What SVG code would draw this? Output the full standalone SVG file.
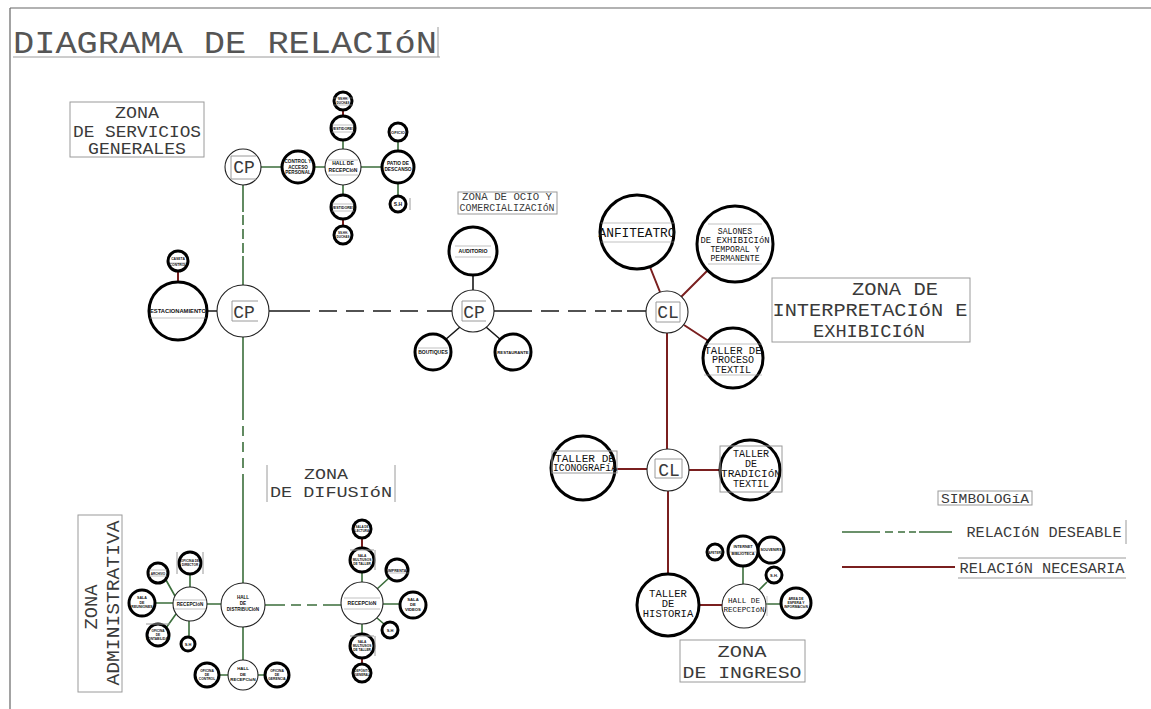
<svg xmlns="http://www.w3.org/2000/svg" width="1151" height="709" viewBox="0 0 1151 709">
<style>
.frame{stroke:#666;stroke-width:1.2;fill:none}
.lbox{fill:none;stroke:#9a9a9a;stroke-width:1}
.tk{fill:#fff;stroke:#000;stroke-width:3}
.tn{fill:#fff;stroke:#222;stroke-width:1.1}
.g{stroke:#3b6e3b;stroke-width:1.6;fill:none}
.r{stroke:#7a1f1f;stroke-width:2;fill:none}
.k{stroke:#1a1a1a;stroke-width:1.6;fill:none}
.ul{stroke:#999;stroke-width:0.6}
text{font-family:"Liberation Mono","DejaVu Sans Mono",monospace;fill:#3a3a3a;text-anchor:middle}
.n{font-family:"Liberation Sans Narrow","Liberation Sans",Arial,sans-serif;font-weight:bold;fill:#111}
</style>
<rect width="1151" height="709" fill="#fff"/>
<g id="frame">
<path class="frame" d="M10 8H1151M10 8V709"/>
<path class="lbox" d="M13 57H440M438 27V57"/>
<text x="13" y="53" font-size="31" textLength="424" lengthAdjust="spacingAndGlyphs" style="text-anchor:start;fill:#555">DIAGRAMA DE RELACIóN</text>
</g>
<g id="zone-labels">
<rect class="lbox" x="70" y="102" width="134" height="55"/>
<text x="137" y="118" font-size="17" textLength="44" lengthAdjust="spacingAndGlyphs">ZONA</text>
<text x="137" y="137" font-size="17" textLength="128" lengthAdjust="spacingAndGlyphs">DE SERVICIOS</text>
<text x="137" y="154" font-size="17" textLength="98" lengthAdjust="spacingAndGlyphs">GENERALES</text>
<rect class="lbox" x="458" y="192" width="99" height="22"/>
<text x="507" y="200" font-size="10" textLength="90" lengthAdjust="spacingAndGlyphs">ZONA DE OCIO Y</text>
<text x="507" y="211" font-size="10" textLength="95" lengthAdjust="spacingAndGlyphs">COMERCIALIZACIóN</text>
<rect class="lbox" x="772" y="278" width="198" height="64"/>
<text x="895" y="295" font-size="19" textLength="86" lengthAdjust="spacingAndGlyphs">ZONA DE</text>
<text x="870" y="316" font-size="19" textLength="195" lengthAdjust="spacingAndGlyphs">INTERPRETACIóN E</text>
<text x="869" y="337" font-size="19" textLength="112" lengthAdjust="spacingAndGlyphs">EXHIBICIóN</text>
<path class="lbox" d="M267 465V502M395 465V502"/>
<text x="326" y="479" font-size="15" textLength="44" lengthAdjust="spacingAndGlyphs">ZONA</text>
<text x="331" y="497" font-size="15" textLength="122" lengthAdjust="spacingAndGlyphs">DE DIFUSIóN</text>
<rect class="lbox" x="78" y="515" width="44" height="177"/>
<text transform="translate(97 607) rotate(-90)" font-size="18" textLength="45" lengthAdjust="spacingAndGlyphs">ZONA</text>
<text transform="translate(119 603) rotate(-90)" font-size="18" textLength="165" lengthAdjust="spacingAndGlyphs">ADMINISTRATIVA</text>
<rect class="lbox" x="680" y="640" width="125" height="42"/>
<text x="742" y="657" font-size="17" textLength="49" lengthAdjust="spacingAndGlyphs">ZONA</text>
<text x="742" y="678" font-size="17" textLength="119" lengthAdjust="spacingAndGlyphs">DE INGRESO</text>
</g>
<g id="legend">
<rect class="lbox" x="938" y="491" width="94" height="14"/>
<text x="985" y="503" font-size="12" textLength="88" lengthAdjust="spacingAndGlyphs">SIMBOLOGíA</text>
<path class="g" d="M842 532H880M885 532H893M898 532H905M909 532H916M919 532H952"/>
<text x="1044" y="537" font-size="14" textLength="155" lengthAdjust="spacingAndGlyphs">RELACIóN DESEABLE</text>
<path class="lbox" d="M1126 520V544"/>
<path class="r" d="M842 567H955"/>
<path class="lbox" d="M958 558H1126M958 578H1126"/>
<text x="1042" y="573" font-size="14" textLength="165" lengthAdjust="spacingAndGlyphs">RELACIóN NECESARIA</text>
</g>
<g id="connectors">
<path class="g" d="M261 167H282M314 167H325M361 167H382"/>
<path class="g" d="M343 149V140M343 185V195M398 151V141M398 183V196"/>
<path class="r" d="M343 116V110M343 219V226"/>
<path class="g" d="M243 185V212M243 215V225M243 229V239M243 243V253M243 256V285"/>
<path class="g" d="M243 337V420M243 426V436M243 442V452M243 458V468M243 474V583"/>
<path class="k" d="M207 311H217M269 311H310M319 311H337M346 311H364M373 311H391M400 311H418M427 311H452"/>
<path class="k" d="M494 311H532M541 311H559M568 311H586M595 311H606M611 311H622M627 311H646"/>
<path class="k" d="M473 290V275M460 327L445 340M486 327L501 340"/>
<path class="r" d="M178 282V271"/>
<path class="r" d="M660 292L650 267M681 297L708 270M684 325L710 342M667 333V449M615 469H647M689 470H720M668 491V574M699 605H722"/>
<path class="g" d="M766 604H781M759 590L767 582M743 584V566"/>
<path class="g" d="M207 604H221M243 627V660M219 675H228M258 675H265M155 603H173M175 596L166 580M190 587V574M176 614L166 628M189 621V637"/>
<path class="g" d="M265 605H285M291 605H301M307 605H317M323 605H341"/>
<path class="g" d="M362 582V572M377 589L389 578M383 604H400M377 618L384 624M362 624V634"/>
<path class="r" d="M362 548V538M362 658V664"/>
</g>
<g id="n-cp1"><circle class="tn" cx="243" cy="167" r="18"/><path class="lbox" d="M231 156H256M231 179H256M231 156V179"/><text x="244" y="173" font-size="18">CP</text></g>
<g id="n-control"><circle class="tk" cx="298" cy="167" r="16"/><text class="n" x="298" y="163" font-size="4.6">CONTROL Y</text><text class="n" x="298" y="168.5" font-size="4.6">ACCESO</text><text class="n" x="298" y="174" font-size="4.6">PERSONAL</text></g>
<g id="n-hall1"><circle class="tn" cx="343" cy="167" r="18"/><path class="ul" d="M328 160H358M328 175H358"/><text class="n" x="343" y="165" font-size="5">HALL DE</text><text class="n" x="343" y="171.5" font-size="5">RECEPCIóN</text></g>
<g id="n-vest1"><circle class="tk" cx="343" cy="128" r="12"/><path class="ul" d="M332 125H354M332 132H354"/><text class="n" x="343" y="130" font-size="3.6">VESTIDORES</text></g>
<g id="n-sh1"><circle class="tk" cx="343" cy="101" r="9"/><path class="ul" d="M333 98H353M333 105H353"/><text class="n" x="343" y="100" font-size="3">SS.HH.</text><text class="n" x="343" y="104" font-size="3">DUCHAS</text></g>
<g id="n-vest2"><circle class="tk" cx="343" cy="207" r="12"/><path class="ul" d="M332 204H354M332 211H354"/><text class="n" x="343" y="209" font-size="3.6">VESTIDORES</text></g>
<g id="n-sh2"><circle class="tk" cx="343" cy="235" r="9"/><text class="n" x="343" y="234" font-size="3">SS.HH.</text><text class="n" x="343" y="238" font-size="3">DUCHAS</text></g>
<g id="n-patio"><circle class="tk" cx="398" cy="167" r="16"/><text class="n" x="398" y="165" font-size="4.8">PATIO DE</text><text class="n" x="398" y="171" font-size="4.8">DESCANSO</text></g>
<g id="n-oficio"><circle class="tk" cx="398" cy="132" r="9"/><text class="n" x="398" y="133.5" font-size="4">OFICIO</text></g>
<g id="n-sh3"><circle class="tk" cx="398" cy="204" r="8"/><path class="lbox" d="M410 198V210"/><text class="n" x="398" y="206" font-size="5">S.H</text></g>
<g id="n-estac"><circle class="tk" cx="178" cy="311" r="29"/><path class="ul" d="M150 318H206"/><text class="n" x="178" y="313" font-size="5.6" textLength="56" lengthAdjust="spacingAndGlyphs">ESTACIONAMIENTO</text></g>
<g id="n-caseta"><circle class="tk" cx="178" cy="261" r="10"/><path class="ul" d="M170 263H186"/><text class="n" x="178" y="260" font-size="3.4">CASETA</text><text class="n" x="178" y="266" font-size="3.4">CONTROL</text></g>
<g id="n-cp2"><circle class="tn" cx="243" cy="311" r="26"/><path class="lbox" d="M232 301H258M232 321H258M232 301V321"/><text x="244" y="318" font-size="18">CP</text></g>
<g id="n-cp3"><circle class="tn" cx="473" cy="311" r="21"/><path class="lbox" d="M462 301H486M462 321H486M462 301V321"/><text x="474" y="318" font-size="18">CP</text></g>
<g id="n-audit"><circle class="tk" cx="473" cy="251" r="24"/><path class="ul" d="M455 246H491M455 257H491"/><text class="n" x="473" y="253" font-size="5.2">AUDITORIO</text></g>
<g id="n-bout"><circle class="tk" cx="433" cy="352" r="18"/><path class="ul" d="M418 348H448"/><text class="n" x="433" y="354" font-size="5">BOUTIQUES</text></g>
<g id="n-rest"><circle class="tk" cx="513" cy="352" r="18"/><text class="n" x="513" y="354" font-size="4.2">RESTAURANTE</text></g>
<g id="n-cl1"><circle class="tn" cx="667" cy="312" r="21"/><path class="lbox" d="M656 302H680M656 322H680M656 302V322M680 302V322"/><text x="668" y="318" font-size="18">CL</text></g>
<g id="n-anfi"><circle class="tk" cx="637" cy="232" r="37"/><path class="ul" d="M601 223H674M601 242H674"/><text x="637" y="237" font-size="13" textLength="77" lengthAdjust="spacingAndGlyphs" style="fill:#111">ANFITEATRO</text></g>
<g id="n-salones"><circle class="tk" cx="735" cy="244" r="38"/><path class="ul" d="M708 224H762M708 264H762"/><text x="735" y="234" font-size="8.2" style="fill:#111">SALONES</text><text x="735" y="243" font-size="8.2" textLength="69" lengthAdjust="spacingAndGlyphs" style="fill:#111">DE EXHIBICIóN</text><text x="735" y="252" font-size="8.2" style="fill:#111">TEMPORAL Y</text><text x="735" y="261" font-size="8.2" style="fill:#111">PERMANENTE</text></g>
<g id="n-proceso"><circle class="tk" cx="733" cy="358" r="30"/><path class="ul" d="M704 344H762M704 375H762"/><text x="733" y="354" font-size="10" textLength="57" lengthAdjust="spacingAndGlyphs" style="fill:#111">TALLER DE</text><text x="733" y="363" font-size="10" style="fill:#111">PROCESO</text><text x="733" y="373" font-size="10" style="fill:#111">TEXTIL</text></g>
<g id="n-cl2"><circle class="tn" cx="668" cy="470" r="21"/><path class="lbox" d="M655 459H682M655 478H682M655 459V478M682 459V478"/><text x="669" y="476" font-size="18">CL</text></g>
<g id="n-icono"><circle class="tk" cx="583" cy="468" r="32"/><rect class="lbox" x="552" y="451" width="65" height="22"/><text x="585" y="462" font-size="10" textLength="60" lengthAdjust="spacingAndGlyphs" style="fill:#111">TALLER DE</text><text x="585" y="471" font-size="10" textLength="64" lengthAdjust="spacingAndGlyphs" style="fill:#111">ICONOGRAFíA</text></g>
<g id="n-tradic"><circle class="tk" cx="750" cy="470" r="30"/><rect class="lbox" x="720" y="446" width="62" height="46"/><text x="751" y="457" font-size="10" style="fill:#111">TALLER</text><text x="751" y="467" font-size="10" style="fill:#111">DE</text><text x="751" y="477" font-size="10" textLength="60" lengthAdjust="spacingAndGlyphs" style="fill:#111">TRADICIóN</text><text x="751" y="487" font-size="10" style="fill:#111">TEXTIL</text></g>
<g id="n-historia"><circle class="tk" cx="668" cy="605" r="31"/><text x="668" y="597" font-size="10.5" style="fill:#111">TALLER</text><text x="668" y="607" font-size="10.5" style="fill:#111">DE</text><text x="668" y="617" font-size="10.5" style="fill:#111">HISTORIA</text></g>
<g id="n-hall3"><circle class="tn" cx="744" cy="606" r="22"/><path class="ul" d="M767 596V616"/><text x="744" y="603" font-size="7.6" style="fill:#111">HALL DE</text><text x="744" y="612" font-size="7.6" style="fill:#111">RECEPCIóN</text></g>
<g id="n-area"><circle class="tk" cx="796" cy="603" r="15"/><text class="n" x="796" y="600" font-size="3.4">AREA DE</text><text class="n" x="796" y="604" font-size="3.4">ESPERA Y</text><text class="n" x="796" y="608" font-size="3.4">INFORMACIóN</text></g>
<g id="n-sh4"><circle class="tk" cx="774" cy="575" r="8"/><text class="n" x="774" y="577" font-size="4">S.H.</text></g>
<g id="n-t1"><circle class="tk" cx="715" cy="552" r="8"/><text class="n" x="715" y="553.5" font-size="3">CAFETERÍA</text></g>
<g id="n-t3"><circle class="tk" cx="771" cy="550" r="13"/><text class="n" x="771" y="551" font-size="3.6">SOUVENIRS</text></g>
<g id="n-t2"><circle class="tk" cx="743" cy="551" r="15"/><path class="ul" d="M730 552H756"/><text class="n" x="743" y="548" font-size="3.8">INTERNET</text><text class="n" x="743" y="555" font-size="3.8">BIBLIOTECA</text></g>
<g id="n-recep1"><circle class="tn" cx="190" cy="604" r="17"/><path class="ul" d="M174 600H206M174 609H206"/><text class="n" x="190" y="606" font-size="4.6">RECEPCIóN</text></g>
<g id="n-halldist"><circle class="tn" cx="243" cy="605" r="22"/><text class="n" x="243" y="599" font-size="4.6">HALL</text><text class="n" x="243" y="605" font-size="4.6">DE</text><text class="n" x="243" y="611" font-size="4.6">DISTRIBUCIóN</text></g>
<g id="n-hallrec2"><circle class="tn" cx="243" cy="675" r="15"/><text class="n" x="243" y="670" font-size="4.4">HALL</text><text class="n" x="243" y="675.5" font-size="4.4">DE</text><text class="n" x="243" y="681" font-size="4.4">RECEPCIóN</text></g>
<g id="n-of1"><circle class="tk" cx="207" cy="675" r="12"/><text class="n" x="207" y="672" font-size="3.3">OFICINA</text><text class="n" x="207" y="676" font-size="3.3">DE</text><text class="n" x="207" y="680" font-size="3.3">CONTROL</text></g>
<g id="n-of2"><circle class="tk" cx="277" cy="675" r="12"/><text class="n" x="277" y="672" font-size="3.3">OFICINA</text><text class="n" x="277" y="676" font-size="3.3">DE</text><text class="n" x="277" y="680" font-size="3.3">GERENCIA</text></g>
<g id="n-reun"><circle class="tk" cx="142" cy="603" r="13"/><text class="n" x="142" y="599" font-size="3.6">SALA</text><text class="n" x="142" y="603.5" font-size="3.6">DE</text><text class="n" x="142" y="608" font-size="3.6">REUNIONES</text></g>
<g id="n-a1"><circle class="tk" cx="158" cy="573" r="10"/><path class="ul" d="M149 570H167M149 576H167"/><text class="n" x="158" y="574.5" font-size="3.2">ARCHIVO</text></g>
<g id="n-a2"><circle class="tk" cx="190" cy="563" r="11"/><path class="lbox" d="M177 552V574M203 552V574"/><text class="n" x="190" y="562" font-size="3.2">OFICINA DE</text><text class="n" x="190" y="566" font-size="3.2">DIRECTOR</text></g>
<g id="n-a3"><circle class="tk" cx="158" cy="635" r="11"/><path class="lbox" d="M146 624H170"/><text class="n" x="158" y="632" font-size="3.2">OFICINA</text><text class="n" x="158" y="636" font-size="3.2">DE</text><text class="n" x="158" y="640" font-size="3.2">CONTABILIDAD</text></g>
<g id="n-a4"><circle class="tk" cx="188" cy="644" r="7"/><text class="n" x="188" y="645.5" font-size="4">S.H</text></g>
<g id="n-recep2"><circle class="tn" cx="362" cy="603" r="21"/><path class="ul" d="M344 598H380M344 609H380"/><text class="n" x="362" y="605" font-size="5">RECEPCIóN</text></g>
<g id="n-videos"><circle class="tk" cx="413" cy="605" r="13"/><text class="n" x="413" y="601" font-size="4.2">SALA</text><text class="n" x="413" y="606" font-size="4.2">DE</text><text class="n" x="413" y="611" font-size="4.2">VIDEOS</text></g>
<g id="n-b0"><circle class="tk" cx="362" cy="529" r="9"/><text class="n" x="362" y="528" font-size="3">SALA DE</text><text class="n" x="362" y="532" font-size="3">LECTURA</text></g>
<g id="n-b1"><circle class="tk" cx="362" cy="560" r="12"/><path class="lbox" d="M350 550H374M375 550V570"/><text class="n" x="362" y="557" font-size="3.2">SALA</text><text class="n" x="362" y="561" font-size="3.2">MULTIUSOS</text><text class="n" x="362" y="565" font-size="3.2">DE TALLER</text></g>
<g id="n-impr"><circle class="tk" cx="397" cy="570" r="11"/><path class="ul" d="M387 573H410"/><text class="n" x="397" y="571.5" font-size="3.6">IMPRENTA</text></g>
<g id="n-b2"><circle class="tk" cx="390" cy="630" r="8"/><text class="n" x="390" y="631.5" font-size="4">S.H</text></g>
<g id="n-b3"><circle class="tk" cx="362" cy="646" r="12"/><path class="lbox" d="M350 636H374M375 636V656"/><text class="n" x="362" y="643" font-size="3.2">SALA</text><text class="n" x="362" y="647" font-size="3.2">MULTIUSOS</text><text class="n" x="362" y="651" font-size="3.2">DE TALLER</text></g>
<g id="n-b4"><circle class="tk" cx="362" cy="673" r="9"/><text class="n" x="362" y="672" font-size="3">DEPÓSITO</text><text class="n" x="362" y="676" font-size="3">GENERAL</text></g>
</svg>
